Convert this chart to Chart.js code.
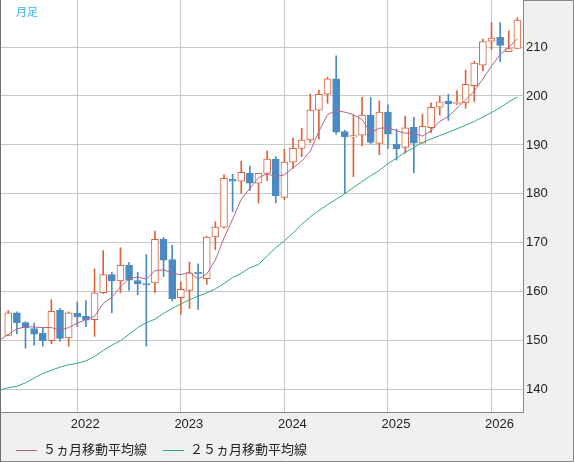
<!DOCTYPE html>
<html lang="ja">
<head>
<meta charset="utf-8">
<title>月足</title>
<script src="https://cdn.jsdelivr.net/npm/chart.js@4/dist/chart.umd.min.js"></script>
<style>
  html, body { margin: 0; padding: 0; background: #fff; }
  #wrap { position: relative; width: 574px; height: 462px; }
  #chart { display: block; }
  .txt { position: absolute; font-family: "Noto Sans CJK JP", sans-serif; white-space: nowrap; }
  #period { left: 16px; top: 3px; font-size: 11px; color: #3cb4ee; }
  .legend { top: 441px; font-size: 13px; line-height: 16px; color: #222; }
  .legend i { display: inline-block; width: 21px; height: 0; border-top: 1px solid; vertical-align: middle; margin-right: 6px; }
</style>
</head>
<body>
<div id="wrap">
  <canvas id="chart" width="574" height="462"></canvas>
  <div class="txt" id="period">月足</div>
  <div class="txt legend" style="left:16px"><i style="border-color:#b4648f"></i>５ヵ月移動平均線</div>
  <div class="txt legend" style="left:163px"><i style="border-color:#2eae78"></i>２５ヵ月移動平均線</div>
</div>
<script>
// monthly bars, first month only carries the moving averages
const months = [
  '2021/04', '2021/05', '2021/06', '2021/07', '2021/08', '2021/09', '2021/10', '2021/11', '2021/12',
  '2022/01', '2022/02', '2022/03', '2022/04', '2022/05', '2022/06', '2022/07', '2022/08', '2022/09', '2022/10', '2022/11', '2022/12',
  '2023/01', '2023/02', '2023/03', '2023/04', '2023/05', '2023/06', '2023/07', '2023/08', '2023/09', '2023/10', '2023/11', '2023/12',
  '2024/01', '2024/02', '2024/03', '2024/04', '2024/05', '2024/06', '2024/07', '2024/08', '2024/09', '2024/10', '2024/11', '2024/12',
  '2025/01', '2025/02', '2025/03', '2025/04', '2025/05', '2025/06', '2025/07', '2025/08', '2025/09', '2025/10', '2025/11', '2025/12',
  '2026/01', '2026/02', '2026/03', '2026/04'
];

const openP = [null,
  151.1, 155.7, 153.7, 152.5, 151.5, 150.0, 156.2, 150.6,
  155.6, 155.0, 154.3, 159.8, 163.5, 162.2, 165.4, 162.3, 161.7, 161.8, 170.7, 166.6,
  158.8, 160.3, 164.0, 162.7, 171.2, 173.2, 183.0, 182.6, 184.2, 182.2, 184.2, 187.1,
  179.3, 186.5, 189.3, 191.0, 197.1, 200.35, 203.5, 192.7, 191.6, 192.0, 196.1, 190.3,
  196.7, 190.1, 189.5, 193.6, 190.35, 193.5, 197.7, 198.9, 198.5, 198.7, 202.1, 206.3,
  211.2, 212.0, 209.05, 209.7
];
const highP = [null,
  156.2, 155.9, 153.9, 153.6, 152.7, 158.4, 156.6, 155.9,
  157.9, 158.2, 164.7, 168.4, 164.0, 169.0, 166.0, 164.0, 167.6, 172.4, 171.1, 169.5,
  162.0, 166.1, 165.7, 171.3, 174.3, 183.9, 184.0, 186.7, 185.7, 184.2, 188.8, 187.6,
  189.1, 191.4, 193.4, 200.4, 201.2, 203.8, 208.2, 193.0, 196.1, 199.7, 199.7, 199.0,
  198.2, 193.2, 195.9, 195.65, 196.3, 198.6, 200.0, 200.35, 201.1, 205.3, 207.1, 211.6,
  215.0, 215.0, 213.3, 216.0
];
const lowP = [null,
  151.0, 151.4, 148.5, 149.1, 148.9, 149.4, 149.9, 148.9,
  152.9, 152.9, 150.9, 159.65, 155.7, 159.8, 160.3, 159.4, 148.9, 159.8, 163.1, 158.1,
  155.4, 156.6, 156.4, 161.5, 168.6, 173.0, 176.4, 180.1, 180.7, 178.1, 182.7, 178.2,
  178.8, 185.2, 187.6, 190.5, 191.2, 198.5, 192.2, 180.1, 183.5, 189.8, 190.2, 188.0,
  189.3, 186.9, 188.3, 184.3, 190.35, 192.5, 196.1, 195.0, 198.2, 197.5, 198.9, 205.1,
  209.5, 207.0, 209.05, 209.7
];
const closeP = [null,
  155.7, 153.7, 152.65, 151.35, 150.0, 156.0, 150.5, 155.7,
  154.9, 154.2, 159.8, 163.5, 162.2, 165.4, 162.4, 161.6, 161.4, 170.7, 166.45, 158.6,
  160.5, 163.9, 163.7, 171.2, 173.2, 183.2, 182.6, 184.4, 182.2, 184.2, 187.1, 179.65,
  186.5, 189.3, 191.0, 197.1, 200.35, 203.5, 192.6, 191.7, 191.9, 196.1, 190.5, 196.7,
  192.2, 189.2, 193.5, 190.35, 193.8, 197.7, 198.8, 198.4, 198.7, 202.4, 206.7, 211.1,
  211.8, 210.3, 209.7, 215.5
];

const ma5 = [
  150.1, 151.3, 152.4, 152.9, 152.8, 152.7, 152.7, 152.1, 152.7,
  153.6, 154.3, 155.0, 157.6, 158.9, 161.0, 162.7, 163.0, 162.6, 164.3, 164.5, 163.8,
  163.5, 164.0, 162.6, 163.6, 166.5, 171.0, 174.8, 178.9, 181.1, 183.3, 184.1, 183.5,
  183.9, 185.3, 186.7, 188.7, 192.8, 196.2, 197.0, 196.7, 196.2, 195.2, 192.5, 193.4,
  193.5, 192.9, 192.4, 192.4, 191.8, 192.9, 194.8, 195.8, 197.5, 199.2, 201.0, 203.5,
  206.1, 208.5, 209.9, 211.7
];
const ma25 = [
  139.9, 140.4, 140.7, 141.4, 142.4, 143.3, 144.0, 144.6, 145.1,
  145.4, 145.9, 146.8, 148.0, 149.1, 150.0, 151.3, 152.7, 153.7, 154.4, 155.6, 156.6,
  157.5, 158.4, 159.1, 159.8, 160.6, 161.7, 162.9, 163.8, 164.9, 165.6, 167.3, 169.0,
  170.4, 172.0, 173.8, 175.3, 176.6, 177.8, 178.9, 180.0, 181.3, 182.5, 183.7, 184.8,
  186.2, 187.3, 188.5, 189.5, 190.5, 191.2, 191.9, 192.6, 193.3, 194.0, 194.8, 195.7,
  196.6, 197.6, 198.8, 199.8
];

const tickMonths = ['2022/01', '2023/01', '2024/01', '2025/01', '2026/01'];
const yTicks = [140, 150, 160, 170, 180, 190, 200, 210];

const UP = '#d9633c';
const DOWN = '#4b8bc3';
const AXIS_FONT = { family: '"Liberation Sans", Arial, sans-serif', size: 13 };

const candleIdx = months.map((m, i) => i).filter(i => openP[i] !== null);
const isUp = i => closeP[i] >= openP[i];

const framePlugin = {
  id: 'frame',
  beforeDraw(chart) {
    const { ctx, chartArea: a, width, height } = chart;
    ctx.save();
    ctx.fillStyle = '#f0f0f0';
    ctx.fillRect(0, 0, width, height);
    ctx.fillStyle = '#fff';
    ctx.fillRect(a.left, a.top, a.right - a.left, a.bottom - a.top);
    ctx.restore();
  },
  afterDraw(chart) {
    const { ctx, chartArea: a, width, height } = chart;
    ctx.save();
    ctx.lineWidth = 1;
    ctx.strokeStyle = '#888';
    ctx.beginPath();
    ctx.moveTo(a.right + 0.5, 0);
    ctx.lineTo(a.right + 0.5, a.bottom + 0.5);
    ctx.lineTo(0, a.bottom + 0.5);
    ctx.moveTo(a.right, 0.5);
    ctx.lineTo(width - 0.5, 0.5);
    ctx.lineTo(width - 0.5, height - 0.5);
    ctx.lineTo(0, height - 0.5);
    ctx.stroke();
    ctx.strokeStyle = '#6e6e6e';
    ctx.beginPath();
    ctx.moveTo(0.5, 0);
    ctx.lineTo(0.5, height);
    ctx.stroke();
    ctx.restore();
  }
};

new Chart(document.getElementById('chart'), {
  type: 'bar',
  data: {
    datasets: [
      {
        type: 'line',
        label: '５ヵ月移動平均線',
        data: months.map((m, i) => ({ x: i, y: ma5[i] })),
        borderColor: '#b4648f',
        borderWidth: 1,
        pointRadius: 0,
        tension: 0,
        order: 0
      },
      {
        type: 'line',
        label: '２５ヵ月移動平均線',
        data: months.map((m, i) => ({ x: i, y: ma25[i] })),
        borderColor: '#2eae78',
        borderWidth: 1,
        pointRadius: 0,
        tension: 0,
        order: 0
      },
      {
        label: 'body',
        data: candleIdx.map(i => ({ x: i, y: [openP[i], closeP[i]] })),
        backgroundColor: candleIdx.map(i => isUp(i) ? '#ffffff' : DOWN),
        borderColor: candleIdx.map(i => isUp(i) ? UP : DOWN),
        borderWidth: 1,
        borderSkipped: false,
        barThickness: 7,
        grouped: false,
        order: 1
      },
      {
        label: 'wick',
        data: candleIdx.map(i => ({ x: i, y: [lowP[i], highP[i]] })),
        backgroundColor: candleIdx.map(i => isUp(i) ? UP : DOWN),
        borderWidth: 0,
        barThickness: 1,
        grouped: false,
        order: 2
      }
    ]
  },
  options: {
    responsive: false,
    animation: false,
    devicePixelRatio: 1,
    layout: { padding: { left: 1, right: 0, top: 0, bottom: 0 } },
    scales: {
      x: {
        type: 'linear',
        min: 0.16,
        max: 60.65,
        offset: false,
        grid: { color: '#c8c8c8', drawTicks: false, offset: false },
        border: { display: false },
        ticks: {
          autoSkip: false,
          maxRotation: 0,
          labelOffset: 8,
          padding: 5,
          color: '#222',
          font: AXIS_FONT,
          callback: value => months[value].slice(0, 4)
        },
        afterBuildTicks: scale => {
          scale.ticks = tickMonths.map(m => ({ value: months.indexOf(m) }));
        },
        afterFit: scale => {
          scale.height = 50;
          scale.paddingLeft = 0;
          scale.paddingRight = 0;
        }
      },
      y: {
        type: 'linear',
        position: 'right',
        min: 135.45,
        max: 219.6,
        grid: { color: '#c8c8c8', drawTicks: false },
        border: { display: false },
        ticks: {
          padding: 3,
          color: '#222',
          font: AXIS_FONT,
          callback: value => String(value)
        },
        afterBuildTicks: scale => {
          scale.ticks = yTicks.map(v => ({ value: v }));
        },
        afterFit: scale => {
          scale.width = 51;
          scale.paddingTop = 0;
          scale.paddingBottom = 0;
        }
      }
    },
    plugins: {
      legend: { display: false },
      tooltip: { enabled: false }
    }
  },
  plugins: [framePlugin]
});
</script>
</body>
</html>
